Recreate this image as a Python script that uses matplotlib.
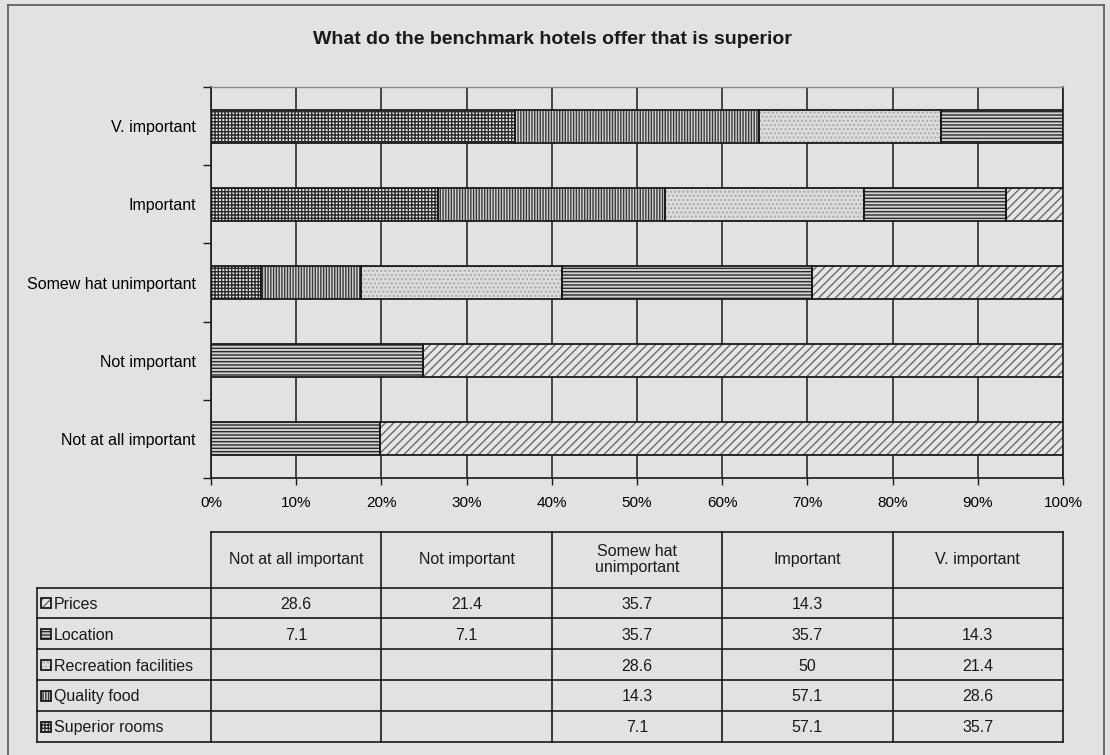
import numpy as np
import matplotlib
matplotlib.use('Agg')
import matplotlib.pyplot as plt
from matplotlib.patches import Rectangle
from matplotlib.lines import Line2D

#====================================
# data read off the chart / data table
categories = ['Not at all important', 'Not important', 'Somew hat unimportant',
              'Important', 'V. important']
table_headers = ['Not at all important', 'Not important', 'Somew hat\nunimportant',
                 'Important', 'V. important']
series_names = ['Prices', 'Location', 'Recreation facilities', 'Quality food',
                'Superior rooms']
prices = [28.6, 21.4, 35.7, 14.3, np.nan]
location = [7.1, 7.1, 35.7, 35.7, 14.3]
recreation = [np.nan, np.nan, 28.6, 50, 21.4]
quality_food = [np.nan, np.nan, 14.3, 57.1, 28.6]
superior_rooms = [np.nan, np.nan, 7.1, 57.1, 35.7]
xtick_labels = ['0%', '10%', '20%', '30%', '40%', '50%', '60%', '70%', '80%', '90%', '100%']

#====================================
# styles
BG = '#e2e2e2'
INK = '#1a1a1a'
# (face, hatch, hatch colour) per series, same order as series_names
styles = [
    ('#e6e6e6', '////', '#6a6a6a'),
    ('#d0d0d0', '-----', '#2a2a2a'),
    ('#dcdcdc', '....', '#a8a8a8'),
    ('#d4d4d4', '||||||', '#3a3a3a'),
    ('#ececec', '+++++', '#2a2a2a'),
]

plt.rcParams['font.family'] = ['Liberation Sans', 'DejaVu Sans']
plt.rcParams['hatch.linewidth'] = 1.0
plt.rcParams['text.color'] = INK

W, H = 1110, 755
fig = plt.figure(figsize=(W / 100, H / 100), dpi=100, facecolor=BG)

# plot area in pixels
px_l, px_r, px_t, px_b = 211, 1063, 87, 478
ax = fig.add_axes([px_l / W, 1 - px_b / H, (px_r - px_l) / W, (px_b - px_t) / H])
ax.set_facecolor(BG)

data = np.array([prices, location, recreation, quality_food, superior_rooms])
totals = np.nansum(data, axis=0)
shares = np.nan_to_num(data) / totals

y = np.arange(len(categories))
left = np.zeros(len(categories))
# Excel stacks last series first (from the left)
for k in [4, 3, 2, 1, 0]:
    face, hatch, hcol = styles[k]
    w = shares[k]
    ax.barh(y, w, left=left, height=0.42, color=face, hatch=hatch,
            edgecolor=hcol, linewidth=0, zorder=3)
    ax.barh(y, w, left=left, height=0.42, fill=False, edgecolor=INK,
            linewidth=1.3, zorder=4)
    left += w

ax.set_xlim(0, 1)
ax.set_ylim(-0.5, len(categories) - 0.5)
ax.set_xticks(np.linspace(0, 1, 11))
ax.set_xticklabels(xtick_labels, fontsize=11)
ax.set_yticks(y)
ax.set_yticklabels(categories, fontsize=11.5)
ax.set_yticks(np.arange(-0.5, len(categories), 1), minor=True)
ax.tick_params(axis='y', which='major', length=0, pad=11)
ax.tick_params(axis='y', which='minor', length=6, width=1, color=INK)
ax.tick_params(axis='x', length=5, width=1, color=INK, pad=8)
ax.grid(axis='x', color=INK, linewidth=1.1, zorder=1)
ax.set_axisbelow(True)
for s in ['left', 'bottom', 'right']:
    ax.spines[s].set_color(INK)
    ax.spines[s].set_linewidth(1.2)
ax.spines['top'].set_color('#8a8a8a')
ax.spines['top'].set_linewidth(1)

fig.text(552 / W, 1 - 40 / H, 'What do the benchmark hotels offer that is superior',
         ha='center', va='center', fontsize=14, fontweight='bold')

#====================================
# data table under the chart, columns line up with the plot area
tb_l, tb_t, tb_b = 37, 532, 742
tax = fig.add_axes([tb_l / W, 1 - tb_b / H, (px_r - tb_l) / W, (tb_b - tb_t) / H])
tax.axis('off')
lab_w = (px_l - tb_l) / ((px_r - px_l) / len(categories))
row_edges = [0, 1.8, 2.8, 3.8, 4.8, 5.8, 6.8]
tax.set_xlim(-lab_w, len(categories))
tax.set_ylim(row_edges[-1], 0)

lc = dict(color=INK, linewidth=1.2, clip_on=False)
tax.plot([0, len(categories)], [0, 0], **lc)
for ye in row_edges[1:]:
    tax.plot([-lab_w, len(categories)], [ye, ye], **lc)
tax.plot([-lab_w, -lab_w], [row_edges[1], row_edges[-1]], **lc)
for xe in range(len(categories) + 1):
    tax.plot([xe, xe], [0, row_edges[-1]], **lc)

for i, h in enumerate(table_headers):
    tax.text(i + 0.5, row_edges[1] / 2, h, ha='center', va='center',
             fontsize=11.5, linespacing=1.05)

key_w = 10 / ((px_r - px_l) / len(categories))
for r, name in enumerate(series_names):
    yc = (row_edges[r + 1] + row_edges[r + 2]) / 2
    face, hatch, hcol = styles[r]
    tax.add_patch(Rectangle((-lab_w + 0.022, yc - 0.16), key_w, 0.32, facecolor=face,
                            hatch=hatch, edgecolor=hcol, linewidth=0, clip_on=False))
    tax.add_patch(Rectangle((-lab_w + 0.022, yc - 0.16), key_w, 0.32, fill=False,
                            edgecolor=INK, linewidth=1.3, clip_on=False))
    tax.text(-lab_w + 0.1, yc + 0.04, name, ha='left', va='center', fontsize=11.5)
    for c in range(len(categories)):
        v = data[r, c]
        if not np.isnan(v):
            tax.text(c + 0.5, yc + 0.04, f'{v:g}', ha='center', va='center', fontsize=11.5)

# page frame around the chart object
frame = dict(color='#555555', linewidth=1.2)
fig.add_artist(Line2D([8 / W, 8 / W], [0, 1 - 5 / H], **frame))
fig.add_artist(Line2D([8 / W, 1104 / W], [1 - 5 / H, 1 - 5 / H], **frame))
fig.add_artist(Line2D([1104 / W, 1104 / W], [0, 1 - 5 / H], **frame))

fig.savefig('out.png', dpi=100, facecolor=BG)
